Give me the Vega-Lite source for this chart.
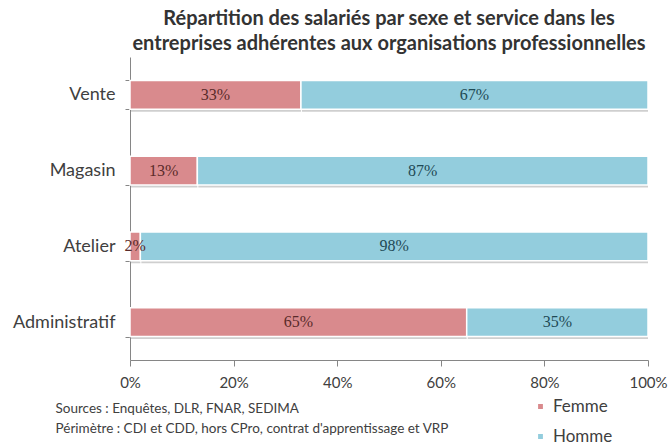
{
  "$schema": "https://vega.github.io/schema/vega-lite/v6.json",
  "width": 518,
  "height": 303,
  "autosize": {"type": "none"},
  "padding": {"left": 130, "top": 57, "right": 22, "bottom": 86},
  "background": "white",
  "config": {"view": {"stroke": null}, "font": "Lato"},
  "title": {
    "text": ["Répartition des salariés par sexe et service  dans les", "entreprises adhérentes aux organisations professionnelles"],
    "fontSize": 20,
    "fontWeight": "bold",
    "color": "#333333",
    "font": "Lato",
    "anchor": "middle",
    "lineHeight": 25,
    "offset": 3,
    "dy": 9
  },
  "data": {
    "values": [
      {"service": "Vente", "sexe": "Femme", "value": 0.33},
      {"service": "Vente", "sexe": "Homme", "value": 0.67},
      {"service": "Magasin", "sexe": "Femme", "value": 0.13},
      {"service": "Magasin", "sexe": "Homme", "value": 0.87},
      {"service": "Atelier", "sexe": "Femme", "value": 0.02},
      {"service": "Atelier", "sexe": "Homme", "value": 0.98},
      {"service": "Administratif", "sexe": "Femme", "value": 0.65},
      {"service": "Administratif", "sexe": "Homme", "value": 0.35}
    ]
  },
  "transform": [
    {"stack": "value", "groupby": ["service"], "sort": [{"field": "sexe", "order": "ascending"}], "as": ["v0", "v1"]},
    {"calculate": "(datum.v0 + datum.v1) / 2", "as": "mid"}
  ],
  "encoding": {
    "y": {
      "field": "service",
      "type": "nominal",
      "sort": ["Vente", "Magasin", "Atelier", "Administratif"],
      "scale": {"paddingInner": 0.62, "paddingOuter": 0.31},
      "axis": {
        "title": null,
        "tickBand": "extent",
        "tickSize": 5,
        "tickColor": "#868686",
        "domainColor": "#868686",
        "labelFontSize": 18,
        "labelColor": "#404040",
        "labelPadding": 10,
        "labelFont": "Lato"
      }
    }
  },
  "resolve": {"scale": {"color": "independent"}, "legend": {"color": "independent"}},
  "layer": [
    {
      "mark": {"type": "bar", "color": "#cfcfcf", "yOffset": 2.5, "xOffset": 1},
      "encoding": {
        "x": {"field": "v0", "type": "quantitative"},
        "x2": {"field": "v1"}
      }
    },
    {
      "mark": {"type": "bar", "stroke": "white", "strokeWidth": 1.5},
      "encoding": {
        "x": {
          "field": "v0",
          "type": "quantitative",
          "scale": {"domain": [0, 1], "nice": false},
          "axis": {
            "format": "%",
            "values": [0, 0.2, 0.4, 0.6, 0.8, 1],
            "grid": false,
            "tickSize": 6,
            "tickColor": "#868686",
            "domainColor": "#868686",
            "labelFontSize": 15,
            "labelColor": "#404040",
            "labelPadding": 9,
            "labelFont": "Lato",
            "labelFlush": false,
            "title": ["Sources : Enquêtes, DLR, FNAR, SEDIMA", "Périmètre : CDI et CDD, hors CPro, contrat d'apprentissage et VRP"],
            "titleFontSize": 13.5,
            "titleFontWeight": "normal",
            "titleColor": "#404040",
            "titleFont": "Lato",
            "titleAnchor": "start",
            "titleAlign": "left",
            "titleBaseline": "top",
            "titleLineHeight": 20,
            "titleX": -75,
            "titleY": 41
          }
        },
        "x2": {"field": "v1"},
        "color": {
          "field": "sexe",
          "type": "nominal",
          "scale": {"domain": ["Femme", "Homme"], "range": ["#d98a8d", "#93cddd"]},
          "legend": {
            "title": null,
            "orient": "none",
            "legendX": 402,
            "legendY": 341,
            "symbolType": "square",
            "symbolSize": 40,
            "labelFontSize": 17,
            "labelColor": "#404040",
            "labelFont": "Lato",
            "rowPadding": 12,
            "labelOffset": 4
          }
        }
      }
    },
    {
      "mark": {"type": "text", "font": "Liberation Serif", "fontSize": 16, "baseline": "middle"},
      "encoding": {
        "x": {"field": "mid", "type": "quantitative"},
        "text": {"field": "value", "type": "quantitative", "format": ".0%"},
        "color": {
          "field": "sexe",
          "type": "nominal",
          "scale": {"domain": ["Femme", "Homme"], "range": ["#5a2a2a", "#1f4a55"]},
          "legend": null
        }
      }
    }
  ]
}
